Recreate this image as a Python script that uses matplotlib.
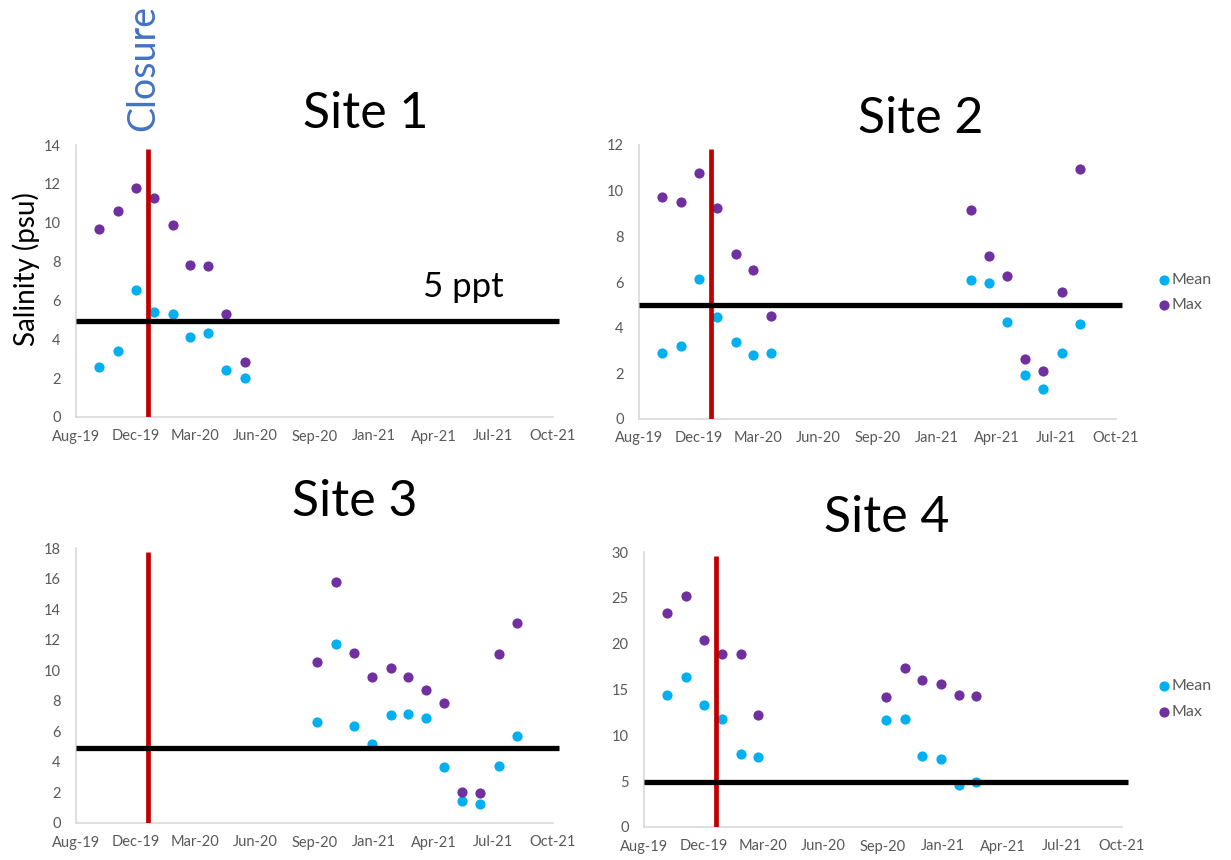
import matplotlib
matplotlib.use("Agg")
import matplotlib.pyplot as plt
import matplotlib.dates as mdates
import matplotlib.transforms as mtransforms
import pandas as pd

plt.rcParams['font.family'] = ['Lato', 'DejaVu Sans']

W, H = 1231, 860

# ---- data (monthly salinity, psu) ----
site1_dates = ["2019-10", "2019-11", "2019-12", "2020-01", "2020-02", "2020-03", "2020-04", "2020-05", "2020-06"]
site1_mean = [2.55, 3.38, 6.53, 5.38, 5.29, 4.13, 4.31, 2.42, 2.01]
site1_max = [9.69, 10.62, 11.78, 11.28, 9.86, 7.82, 7.76, 5.29, 2.83]

site2_dates = ["2019-10", "2019-11", "2019-12", "2020-01", "2020-02", "2020-03", "2020-04",
               "2021-03", "2021-04", "2021-05", "2021-06", "2021-07", "2021-08", "2021-09"]
site2_mean = [2.89, 3.19, 6.15, 4.47, 3.36, 2.82, 2.87, 6.10, 5.95, 4.25, 1.93, 1.30, 2.89, 4.17]
site2_max = [9.74, 9.52, 10.79, 9.24, 7.21, 6.52, 4.53, 9.14, 7.15, 6.27, 2.62, 2.11, 5.56, 10.95]

site3_dates = ["2020-10", "2020-11", "2020-12", "2021-01", "2021-02", "2021-03",
               "2021-04", "2021-05", "2021-06", "2021-07", "2021-08", "2021-09"]
site3_mean = [6.6, 11.73, 6.37, 5.19, 7.09, 7.14, 6.88, 3.67, 1.46, 1.24, 3.76, 5.72]
site3_max = [10.53, 15.77, 11.1, 9.58, 10.13, 9.58, 8.71, 7.84, 2.03, 1.97, 11.07, 13.1]

site4_dates = ["2019-10", "2019-11", "2019-12", "2020-01", "2020-02", "2020-03",
               "2020-10", "2020-11", "2020-12", "2021-01", "2021-02", "2021-03"]
site4_mean = [14.42, 16.35, 13.35, 11.82, 8.0, 7.65, 11.64, 11.82, 7.75, 7.38, 4.55, 4.95]
site4_max = [23.4, 25.2, 20.4, 18.9, 18.9, 12.2, 14.22, 17.35, 16.07, 15.56, 14.4, 14.29]

closure_date = "2019-12-22"
threshold = [4.95, 4.99, 4.94, 4.87]
y_max = [14, 12, 18, 30]
y_step = [2, 2, 2, 5]
titles = ["Site 1", "Site 2", "Site 3", "Site 4"]

# excel-style date axis: 100-day steps from 23 Aug 2019
axis_start = pd.Timestamp("2019-08-23")
x_ticks = [axis_start + pd.Timedelta(days=100 * k) for k in range(9)]

MEAN_C = "#00B0F0"
MAX_C = "#7030A0"
GREY = "#595959"

# axes boxes in pixels: left, top, right, bottom
boxes = [(76, 145, 553, 417), (639, 145, 1116, 419),
         (76, 548, 553, 823), (644, 552, 1122, 827)]

fig = plt.figure(figsize=(W / 100, H / 100), dpi=100)
fig.patch.set_facecolor("white")

sites = [(site1_dates, site1_mean, site1_max),
         (site2_dates, site2_mean, site2_max),
         (site3_dates, site3_mean, site3_max),
         (site4_dates, site4_mean, site4_max)]

axes = []
for i, (dates, mean, mx) in enumerate(sites):
    l, t, r, b = boxes[i]
    ax = fig.add_axes([l / W, (H - b) / H, (r - l) / W, (b - t) / H])
    axes.append(ax)
    d = pd.to_datetime(dates)
    ax.scatter(d, mean, s=54, color=MEAN_C, zorder=2, label="Mean", linewidths=0)
    ax.scatter(d, mx, s=54, color=MAX_C, zorder=2, label="Max", linewidths=0)

    ax.set_xlim(x_ticks[0], x_ticks[-1])
    ax.set_ylim(0, y_max[i])
    ax.set_xticks(x_ticks)
    ax.xaxis.set_major_formatter(mdates.DateFormatter("%b-%y"))
    ax.set_yticks(range(0, y_max[i] + 1, y_step[i]))
    ax.tick_params(length=0, labelsize=10.5, colors=GREY)
    ax.tick_params(axis="y", pad=11)
    ax.tick_params(axis="x", pad=9)
    for s in ["top", "right"]:
        ax.spines[s].set_visible(False)
    for s in ["left", "bottom"]:
        ax.spines[s].set_color("#D9D9D9")
        ax.spines[s].set_linewidth(1.2)

    # closure line and 5 ppt line
    ax.plot([pd.Timestamp(closure_date)] * 2, [0, y_max[i] * 0.985], color="#C00000",
            lw=3.4, zorder=3, solid_capstyle="butt")
    tr = mtransforms.blended_transform_factory(ax.transAxes, ax.transData)
    ax.plot([0, 1.012], [threshold[i]] * 2, color="black", lw=3.8, zorder=3,
            transform=tr, clip_on=False, solid_capstyle="butt")

title_pos = [(366, 128), (921, 133), (355, 516), (887, 532)]
for (x, y), t in zip(title_pos, titles):
    fig.text(x / W, 1 - y / H, t, fontsize=36, ha="center", va="baseline")

fig.text(143 / W, 1 - 68 / H, "Closure", fontsize=27, color="#4472C4", rotation=90,
         ha="center", va="center")
fig.text(26 / W, 1 - 269 / H, "Salinity (psu)", fontsize=20, rotation=90,
         ha="center", va="center")
fig.text(423 / W, 1 - 297 / H, "5 ppt", fontsize=25, ha="left", va="baseline")

for ax, yc in [(axes[1], 292.5), (axes[3], 699)]:
    ax.legend(loc="center left", bbox_to_anchor=(1160 / W, 1 - yc / H),
              bbox_transform=fig.transFigure, frameon=False, fontsize=11.5,
              handlelength=0.5, handletextpad=0.25, labelspacing=0.7,
              borderpad=0, borderaxespad=0, labelcolor=GREY, scatterpoints=1)

fig.savefig("out.png", dpi=100)
